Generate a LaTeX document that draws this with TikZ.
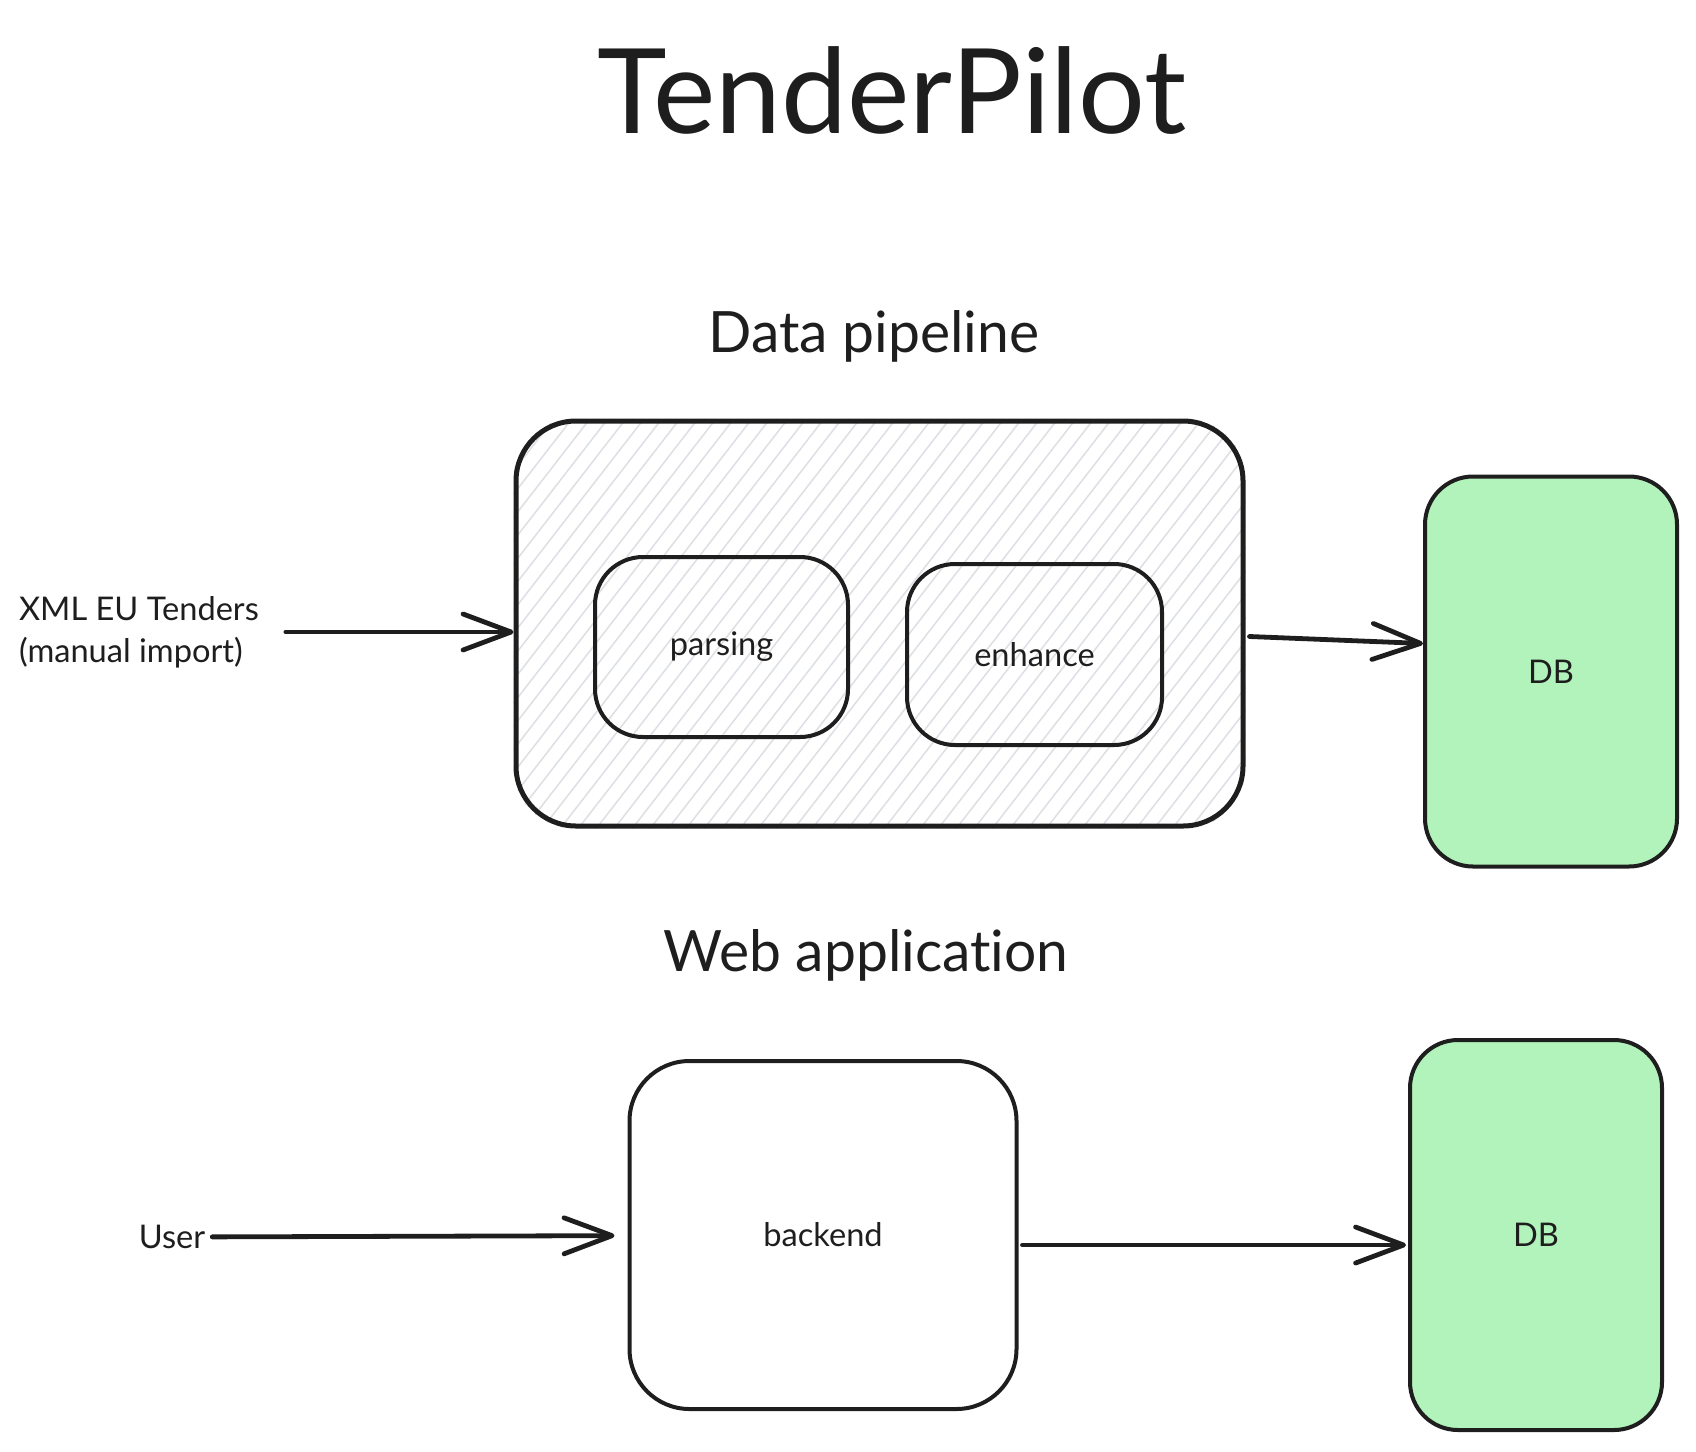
\documentclass[tikz,border=0pt]{standalone}
\usepackage{fontspec}
\setmainfont{Lato}[Ligatures=NoCommon]
\usepackage{xcolor}
\usetikzlibrary{arrows.meta, backgrounds, calc}

\definecolor{ink}{HTML}{1E1E1E}
\definecolor{dbgreen}{HTML}{B2F2BB}
\definecolor{hatchgray}{HTML}{DDE1E5}

\tikzset{
  box/.style={draw=ink, line width=2pt, rounded corners=24pt, inner sep=0pt, text=ink, font=\fontsize{16.3}{21}\selectfont},
  dbbox/.style={box, fill=dbgreen, minimum width=126pt, minimum height=195pt},
  arr/.style={-{Straight Barb[length=24pt, width=18pt, round]}, draw=ink, line width=2.4pt, line cap=round},
  small/.style={text=ink, font=\fontsize{16.3}{21}\selectfont},
  heading/.style={text=ink, anchor=base, font=\fontsize{28.5}{33}\selectfont},
}

\begin{document}
\begin{tikzpicture}[x=1pt, y=-1pt]
  \useasboundingbox (0,0) rectangle (848,725.5);

  % titles
  \node[text=ink, anchor=base, font=\fontsize{59}{63}\selectfont] (title) at (446,66.5) {TenderPilot};
  \node[heading] (pipetitle) at (437,176) {Data pipeline};
  \node[heading] (webtitle) at (433,485.5) {Web application};

  % data pipeline
  \node[box, line width=2.5pt, rounded corners=30pt, minimum width=363.5pt, minimum height=202.5pt] (pipeline) at (439.75,311.75) {};
  \node[box, minimum width=126.5pt, minimum height=90pt] (parsing) at (360.75,323.5) {parsing};
  \node[box, minimum width=127.5pt, minimum height=90.5pt] (enhance) at (517.25,327.25) {enhance};
  \node[dbbox] (db1) at (775.5,335.75) {DB};
  \node[small, align=left, anchor=west] (xml) at (6,316) {XML EU Tenders\\(manual import)};

  \begin{scope}[on background layer]
    \clip[rounded corners=30pt] (pipeline.south west) rectangle (pipeline.north east);
    \foreach \k in {0,...,60}
      \draw[hatchgray, line width=0.8pt] ({98+9*\k},417) -- ({258.5+9*\k},210);
  \end{scope}

  \draw[arr] ($(xml.east)+(10,0)$) -- (xml.east -| pipeline.west);
  \draw[arr] ($(pipeline.east)+(2,6.5)$) -- ($(db1.west)+(0,-14)$);

  % web application
  \node[box, rounded corners=30pt, minimum width=193.5pt, minimum height=174pt] (backend) at (411.5,617.5) {backend};
  \node[dbbox] (db2) at (768,617.5) {DB};
  \node[small] (user) at (86,618.5) {User};

  \draw[arr, shorten >=6.5pt] (user) -- (backend);
  \draw[arr] ($(backend.east)+(2,5)$) -- ($(db2.west)+(-1,5)$);
\end{tikzpicture}
\end{document}
